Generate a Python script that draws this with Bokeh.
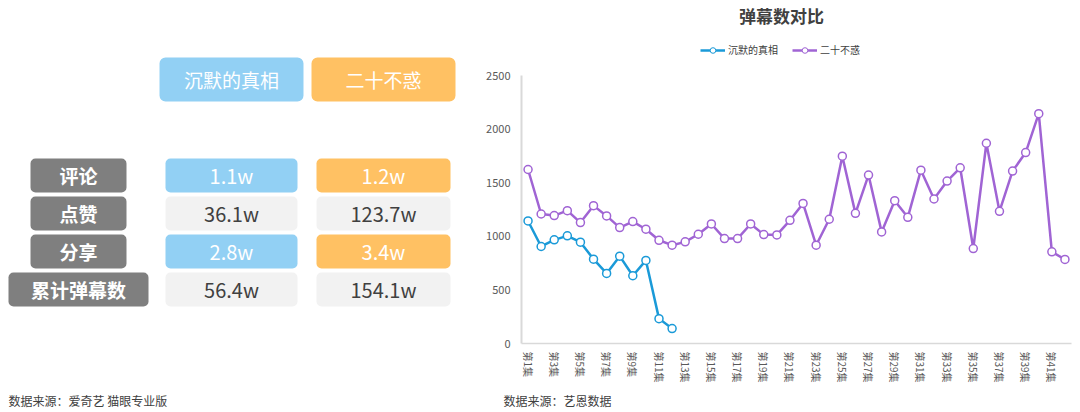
from bokeh.plotting import figure
from bokeh.layouts import row
from bokeh.models import Range1d, FixedTicker, Label, Legend, LegendItem, ColumnDataSource
from bokeh.embed import file_html
from bokeh.resources import INLINE
from bokeh.core.properties import value

# ---------------- data ----------------
shows = ["沉默的真相", "二十不惑"]
metrics = ["评论", "点赞", "分享", "累计弹幕数"]
show1_stats = ["1.1w", "36.1w", "2.8w", "56.4w"]
show2_stats = ["1.2w", "123.7w", "3.4w", "154.1w"]

episodes1 = list(range(1, 13))
danmu1 = [1143, 905, 967, 1004, 945, 787, 654, 815, 632, 775, 232, 139]
episodes2 = list(range(1, 43))
danmu2 = [1623, 1208, 1193, 1239, 1128, 1286, 1190, 1081, 1137, 1066,
          963, 917, 948, 1019, 1115, 979, 979, 1115, 1016, 1013,
          1149, 1307, 917, 1159, 1747, 1214, 1571, 1041, 1332, 1177,
          1617, 1348, 1515, 1639, 886, 1868, 1233, 1608, 1781, 2144,
          855, 784]
tick_episodes = list(range(1, 42, 2))
tick_labels = [f"第{i}集" for i in tick_episodes]
y_ticks = [0, 500, 1000, 1500, 2000, 2500]
y_axis_max = 2500
n_episodes = 42

chart_title = "弹幕数对比"
source_left = "数据来源：爱奇艺 猫眼专业版"
source_right = "数据来源：艺恩数据"

# ---------------- styles / layout ----------------
FONT = "Noto Sans CJK SC"
BLUE_BOX = "#92d0f4"
ORANGE_BOX = "#ffc163"
GRAY_BOX = "#7f7f7f"
LIGHT_BOX = "#f2f2f2"
DARK_TEXT = "#404040"
BLUE_LINE = "#1a9ad8"
PURPLE_LINE = "#a064d4"
AXIS_TEXT = "#595959"
AXIS_LINE = "#d9d9d9"

W, H = 1080, 412
FRAME_TOP = 75        # pixel row of the value 2500
FRAME_BOTTOM = 343    # pixel row of the value 0
LEFT_W = 478
RIGHT_W = W - LEFT_W
PLOT_LEFT = 521       # pixel column of the value axis
PLOT_RIGHT = 1071     # pixel column of the plot's right edge

# ---------------- left: table ----------------
left = figure(width=LEFT_W, height=H, x_range=Range1d(0, LEFT_W), y_range=Range1d(H, 0),
              output_backend="svg", toolbar_location=None, min_border=0,
              x_axis_type=None, y_axis_type=None)
left.grid.visible = False
left.outline_line_color = None

col_cx = [231, 383]
head_w = 144
head_cy, head_h = 79, 44
row_cy0, row_step, row_h = 175, 38, 34
cell_w = [132, 134]
lab_cx = 78
lab_w = [96, 96, 96, 140]
col_fill = [BLUE_BOX, ORANGE_BOX]

# headers
hsrc = ColumnDataSource(dict(
    l=[c - head_w / 2 for c in col_cx], r=[c + head_w / 2 for c in col_cx],
    t=[head_cy - head_h / 2] * 2, b=[head_cy + head_h / 2] * 2,
    fill=col_fill, x=col_cx, y=[head_cy] * 2, txt=shows))
left.quad(left="l", right="r", top="t", bottom="b", fill_color="fill", line_color=None,
          border_radius=6, source=hsrc)
left.text(x="x", y="y", text="txt", source=hsrc, text_align="center", text_baseline="middle",
          text_color="white", text_font=value(FONT), text_font_size="19px")

# row labels
rows_y = [row_cy0 + i * row_step for i in range(len(metrics))]
lsrc = ColumnDataSource(dict(
    l=[lab_cx - w / 2 for w in lab_w], r=[lab_cx + w / 2 for w in lab_w],
    t=[y - row_h / 2 for y in rows_y], b=[y + row_h / 2 for y in rows_y],
    x=[lab_cx] * len(metrics), y=rows_y, txt=metrics))
left.quad(left="l", right="r", top="t", bottom="b", fill_color=GRAY_BOX, line_color=None,
          border_radius=5, source=lsrc)
left.text(x="x", y="y", text="txt", source=lsrc, text_align="center", text_baseline="middle",
          text_color="white", text_font=value(FONT), text_font_size="19px",
          text_font_style="bold")

# value cells
for ci, stats in enumerate([show1_stats, show2_stats]):
    fills = [col_fill[ci] if i % 2 == 0 else LIGHT_BOX for i in range(len(stats))]
    tcols = ["white" if i % 2 == 0 else DARK_TEXT for i in range(len(stats))]
    csrc = ColumnDataSource(dict(
        l=[col_cx[ci] - cell_w[ci] / 2] * len(stats), r=[col_cx[ci] + cell_w[ci] / 2] * len(stats),
        t=[y - row_h / 2 for y in rows_y], b=[y + row_h / 2 for y in rows_y],
        x=[col_cx[ci]] * len(stats), y=rows_y, txt=stats, fill=fills, tc=tcols))
    left.quad(left="l", right="r", top="t", bottom="b", fill_color="fill", line_color=None,
              border_radius=5, source=csrc)
    left.text(x="x", y="y", text="txt", source=csrc, text_align="center", text_baseline="middle",
              text_color="tc", text_font=value(FONT), text_font_size="20px")

left.add_layout(Label(x=8, y=400, text=source_left, text_align="left", text_baseline="middle",
                      text_font=FONT, text_font_size="12px", text_color=DARK_TEXT))

# ---------------- right: line chart ----------------
# the frame fills the whole right panel; both axes are pinned at the plot origin
x0 = 0.5
x_end = n_episodes + 0.5
px_x = (PLOT_RIGHT - PLOT_LEFT) / (x_end - x0)
x_lo = x0 - (PLOT_LEFT - LEFT_W) / px_x
x_hi = x_end + (W - PLOT_RIGHT) / px_x
px_y = (FRAME_BOTTOM - FRAME_TOP) / y_axis_max
y_lo = -(H - FRAME_BOTTOM) / px_y
y_hi = y_axis_max + FRAME_TOP / px_y

p = figure(width=RIGHT_W, height=H, x_range=Range1d(x_lo, x_hi), y_range=Range1d(y_lo, y_hi),
           output_backend="svg", toolbar_location=None, min_border=0)
p.grid.visible = False
p.outline_line_color = None

p.yaxis.fixed_location = x0
p.yaxis.ticker = FixedTicker(ticks=y_ticks)
p.yaxis.major_label_text_font_size = "11px"
p.yaxis.major_label_text_color = AXIS_TEXT
p.yaxis.major_label_text_font = FONT
p.yaxis.axis_line_color = None
p.yaxis.major_tick_line_color = None
p.yaxis.minor_tick_line_color = None
p.yaxis.major_tick_out = 0
p.yaxis.major_label_standoff = 11

p.xaxis.fixed_location = 0
p.xaxis.ticker = FixedTicker(ticks=tick_episodes)
p.xaxis.major_label_overrides = {e: t for e, t in zip(tick_episodes, tick_labels)}
p.xaxis.major_label_orientation = "vertical"
p.xaxis.major_label_text_font_size = "10px"
p.xaxis.major_label_text_color = AXIS_TEXT
p.xaxis.major_label_text_font = FONT
p.xaxis.axis_line_color = None
p.xaxis.major_tick_line_color = None
p.xaxis.minor_tick_line_color = None
p.xaxis.major_tick_out = 0
p.xaxis.major_label_standoff = 8

# axis lines limited to the plot area
p.segment(x0=[x0], y0=[0], x1=[x0], y1=[y_axis_max], line_color=AXIS_LINE, line_width=2)
p.segment(x0=[x0], y0=[0], x1=[x_end], y1=[0], line_color=AXIS_LINE, line_width=1.5)

p.line(episodes2, danmu2, line_color=PURPLE_LINE, line_width=2.5)
p.scatter(episodes2, danmu2, size=8, fill_color="white", line_color=PURPLE_LINE, line_width=1.5)
p.line(episodes1, danmu1, line_color=BLUE_LINE, line_width=2.5)
p.scatter(episodes1, danmu1, size=8, fill_color="white", line_color=BLUE_LINE, line_width=1.5)

# legend swatch renderers (data outside the visible range; only used for the legend glyphs)
lg1 = p.line([1, 2], [-5000, -5000], line_color=BLUE_LINE, line_width=2.5)
lm1 = p.scatter([1.5], [-5000], size=5, fill_color="white", line_color=BLUE_LINE, line_width=1)
lg2 = p.line([1, 2], [-5000, -5000], line_color=PURPLE_LINE, line_width=2.5)
lm2 = p.scatter([1.5], [-5000], size=5, fill_color="white", line_color=PURPLE_LINE, line_width=1)
legend = Legend(items=[LegendItem(label=value(shows[0]), renderers=[lg1, lm1]),
                       LegendItem(label=value(shows[1]), renderers=[lg2, lm2])],
                location=(700 - LEFT_W, H - 57), orientation="horizontal",
                glyph_width=25, glyph_height=14,
                label_height=14, label_standoff=3, spacing=14, padding=0, margin=0,
                border_line_color=None, background_fill_alpha=0,
                label_text_font=FONT, label_text_font_size="10px", label_text_color=DARK_TEXT)
p.add_layout(legend)

p.add_layout(Label(x=781 - LEFT_W, y=H - 15, x_units="screen", y_units="screen",
                   text=chart_title, text_align="center", text_baseline="middle", text_font=FONT,
                   text_font_size="17px", text_font_style="bold", text_color=DARK_TEXT))
p.add_layout(Label(x=503 - LEFT_W, y=H - 400, x_units="screen", y_units="screen",
                   text=source_right, text_align="left", text_baseline="middle", text_font=FONT,
                   text_font_size="12px", text_color=DARK_TEXT))

layout = row(left, p)
open("out.html", "w").write(file_html(layout, INLINE))
